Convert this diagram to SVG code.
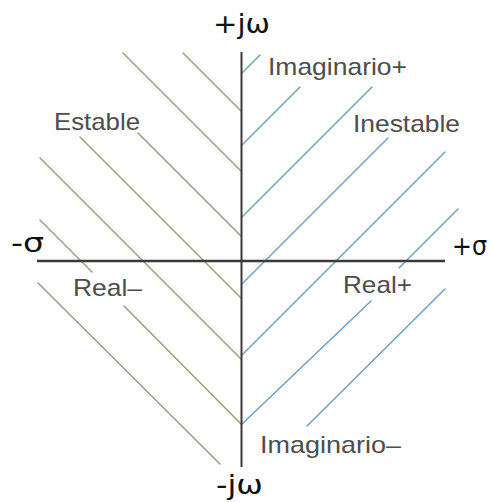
<svg xmlns="http://www.w3.org/2000/svg" width="491" height="502" viewBox="0 0 491 502">
<style>
.l{stroke:#9e9878;stroke-width:1.4;fill:none;stroke-linecap:round}
.r{stroke:#6c9cc4;stroke-width:1.4;fill:none;stroke-linecap:round}
.ax{stroke:#3a3a3a;fill:none}
.lab{font-family:"Liberation Sans",Arial,sans-serif;font-size:24px;fill:#4d4d4d}
.axl{font-family:"DejaVu Sans",Verdana,sans-serif;font-size:27px;fill:#111}
</style>
<rect width="491" height="502" fill="#fff"/>
<g id="stable-lines">
<line class="l" x1="123" y1="53" x2="241" y2="171"/>
<line class="l" x1="183" y1="53" x2="241" y2="111"/>
<line class="l" x1="80" y1="137" x2="241" y2="298"/>
<line class="l" x1="138" y1="133" x2="241" y2="236"/>
<line class="l" x1="40" y1="158" x2="241" y2="359"/>
<line class="l" x1="40" y1="220" x2="92" y2="272"/>
<line class="l" x1="124" y1="306" x2="241" y2="424"/>
<line class="l" x1="38" y1="283" x2="220" y2="464"/>
</g>
<g id="unstable-lines">
<line class="r" x1="260" y1="55" x2="242" y2="73"/>
<line class="r" x1="300" y1="87" x2="242" y2="145"/>
<line class="r" x1="372" y1="87" x2="242" y2="217"/>
<line class="r" x1="388" y1="138" x2="242" y2="284"/>
<line class="r" x1="445" y1="152" x2="242" y2="355"/>
<line class="r" x1="458" y1="209" x2="399" y2="268"/>
<line class="r" x1="371" y1="301" x2="242" y2="424"/>
<line class="r" x1="445" y1="289" x2="307" y2="426"/>
</g>
<g id="axes">
<line class="ax" x1="241.5" y1="52" x2="241.5" y2="467" stroke-width="2"/>
<line class="ax" x1="37" y1="261" x2="445" y2="261" stroke-width="2.6"/>
</g>
<g id="axis-labels">
<text class="axl" x="213" y="33" textLength="57" lengthAdjust="spacingAndGlyphs">+jω</text>
<text class="axl" x="216" y="494" textLength="47" lengthAdjust="spacingAndGlyphs">-jω</text>
<text class="axl" x="11" y="252" textLength="33" lengthAdjust="spacingAndGlyphs">-σ</text>
<text class="axl" x="452" y="255" textLength="35" lengthAdjust="spacingAndGlyphs">+σ</text>
</g>
<g id="region-labels">
<text class="lab" x="268" y="75" textLength="139" lengthAdjust="spacingAndGlyphs">Imaginario+</text>
<text class="lab" x="353" y="132" textLength="107" lengthAdjust="spacingAndGlyphs">Inestable</text>
<text class="lab" x="54" y="130" textLength="86" lengthAdjust="spacingAndGlyphs">Estable</text>
<text class="lab" x="73" y="296" textLength="69" lengthAdjust="spacingAndGlyphs">Real–</text>
<text class="lab" x="343" y="293" textLength="69" lengthAdjust="spacingAndGlyphs">Real+</text>
<text class="lab" x="260" y="453" textLength="141" lengthAdjust="spacingAndGlyphs">Imaginario–</text>
</g>
</svg>
